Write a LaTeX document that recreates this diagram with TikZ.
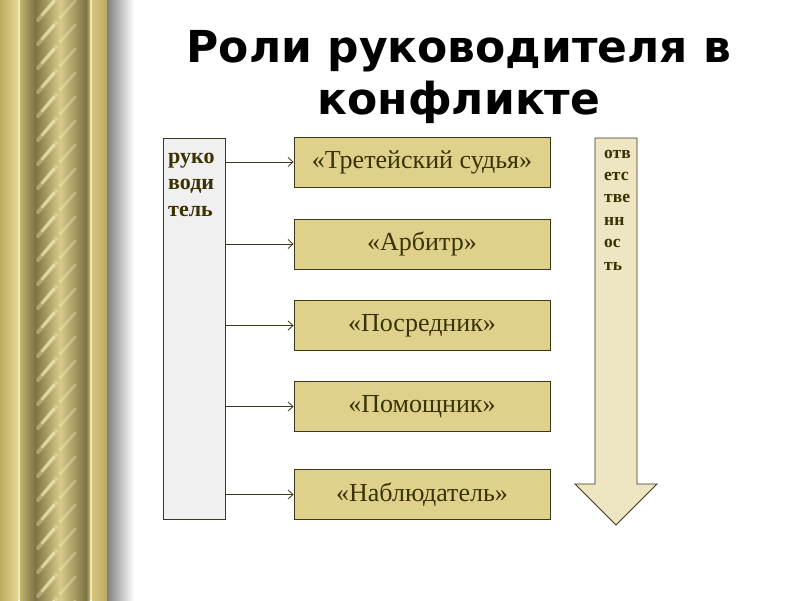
\documentclass[tikz,border=0pt]{standalone}
\usepackage{fontspec}
\setmainfont{Liberation Serif}
\newfontfamily\titlefont{DejaVu Sans}
\usetikzlibrary{arrows.meta}
\definecolor{boxfill}{HTML}{DFD08C}
\definecolor{boxline}{HTML}{3C3818}
\definecolor{txt}{HTML}{3A3200}
\definecolor{leadfill}{HTML}{F0F0F0}
\definecolor{arrfill}{HTML}{EEE5C2}
\definecolor{gA}{HTML}{BCAC62}
\definecolor{gB}{HTML}{E4D690}
\definecolor{gLine}{HTML}{F2E8B4}
\definecolor{gC}{HTML}{C2B46E}
\definecolor{gDark}{HTML}{7E7345}
\definecolor{gMid}{HTML}{D8CA88}
\definecolor{gD}{HTML}{D6C57E}
\definecolor{gE}{HTML}{B9A962}
\definecolor{streak}{HTML}{F6EDB8}
\tikzset{
  rolebox/.style={draw=boxline, line width=0.8pt, fill=boxfill, minimum width=256pt, minimum height=50pt, inner sep=0pt, text=txt, font=\fontsize{26}{30}\selectfont},
  conn/.style={draw=boxline, line width=0.8pt, -{Straight Barb[length=5pt,width=9pt,line width=0.8pt]}},
  titletext/.style={font=\titlefont\bfseries\fontsize{44}{52}\selectfont, text=black, anchor=base, inner sep=0pt},
  stacktext/.style={anchor=base west, align=left, inner sep=0pt, text=txt},
}
\begin{document}
\begin{tikzpicture}[x=1pt,y=-1pt]
\useasboundingbox (0,0) rectangle (800,600);
\fill[white] (0,0) rectangle (800,600);
% curtain
\shade[left color=gA, right color=gB] (0,0) rectangle (18,600);
\fill[gLine] (18,0) rectangle (20,600);
\shade[left color=gC, right color=gDark] (20,0) rectangle (35,600);
\shade[left color=gDark, right color=gMid] (35,0) rectangle (60,600);
\shade[left color=gMid, right color=gDark] (60,0) rectangle (86,600);
\shade[left color=gDark, right color=gC] (86,0) rectangle (90,600);
\fill[gLine] (90,0) rectangle (92,600);
\shade[left color=gD, right color=gE] (92,0) rectangle (107,600);
\shade[left color=black!50, right color=white] (107,0) rectangle (134,600);
\begin{scope}
  \clip (34,0) rectangle (80,600);
  \foreach \y in {-50,-26,...,650} {
    \draw[streak, line width=4pt, line cap=round, opacity=0.35] (38,\y+46) -- (56,\y+25);
    \draw[streak, line width=2.5pt, line cap=round, opacity=0.6] (42,\y+41) -- (54,\y+27);
    \draw[streak, line width=3pt, line cap=round, opacity=0.35] (60,\y+20) -- (75,\y+3);
  }
\end{scope}
% title
\node[titletext] (title1) at (459,62) {Роли руководителя в};
\node[titletext] (title2) at (459,114) {конфликте};
% leader box
\node[draw=boxline, line width=0.8pt, fill=leadfill, minimum width=62pt, minimum height=381pt, inner sep=0pt] (lead) at (194,328.5) {};
\node[stacktext, font=\bfseries\fontsize{22}{26.5}\selectfont] (leadtext) at (168,216) {руко\\води\\тель};
% role boxes
\node[rolebox] (b1) at (422,162) {«Третейский судья»};
\node[rolebox] (b2) at (422,244) {«Арбитр»};
\node[rolebox] (b3) at (422,325.5) {«Посредник»};
\node[rolebox] (b4) at (422,406.5) {«Помощник»};
\node[rolebox] (b5) at (422,494.5) {«Наблюдатель»};
\foreach \b in {b1,b2,b3,b4,b5}
  \draw[conn] (lead.east |- \b.west) -- (\b.west);
% responsibility arrow
\draw[draw=boxline, line width=0.8pt, fill=arrfill, line join=miter]
  (595,138) -- (637,138) -- (637,484) -- (657,484) -- (616,525) -- (575,484) -- (595,484) -- cycle;
\coordinate (arrtext) at (604,270);
\node[stacktext, font=\bfseries\fontsize{17.5}{22.4}\selectfont] (resp) at (arrtext) {отв\\етс\\тве\\нн\\ос\\ть};
\end{tikzpicture}
\end{document}
